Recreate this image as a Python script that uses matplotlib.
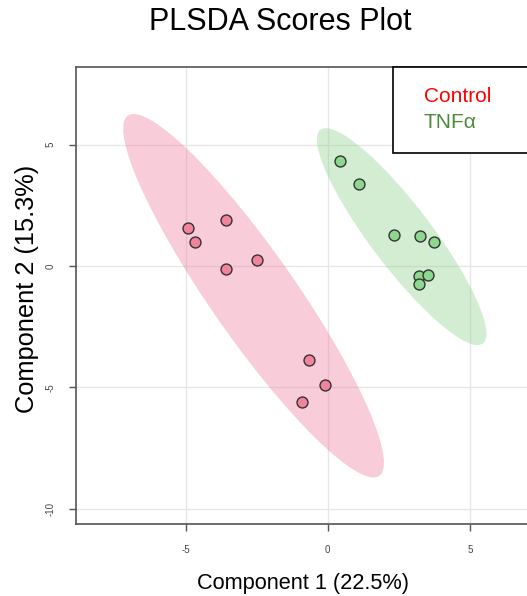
import numpy as np
import matplotlib
matplotlib.use("Agg")
import matplotlib.pyplot as plt
from matplotlib.patches import Ellipse, Rectangle

plt.rcParams["font.family"] = ["Liberation Sans", "DejaVu Sans"]

# scores
control_x = [-4.90, -4.68, -3.58, -3.58, -2.50, -0.65, -0.08, -0.91]
control_y = [1.55, 1.00, 1.91, -0.10, 0.23, -3.86, -4.91, -5.60]
tnf_x = [0.42, 1.11, 2.32, 3.23, 3.75, 3.22, 3.53, 3.20]
tnf_y = [4.32, 3.39, 1.29, 1.25, 0.98, -0.40, -0.38, -0.73]

groups = ["Control", "TNF\u03b1"]
point_colors = ["#F0849C", "#8ED88E"]
fill_colors = ["#F080A0", "#93D293"]
label_colors = ["#FF0000", "#4E8A3A"]

x_ticks = [-5, 0, 5]
y_ticks = [5, 0, -5, -10]


def conf_ellipse(x, y, color):
    # 95% confidence ellipse from the group covariance
    pts = np.vstack([x, y])
    mean = pts.mean(axis=1)
    cov = np.cov(pts)
    vals, vecs = np.linalg.eigh(cov)
    order = vals.argsort()[::-1]
    vals, vecs = vals[order], vecs[:, order]
    angle = np.degrees(np.arctan2(vecs[1, 0], vecs[0, 0]))
    k = np.sqrt(5.991)
    return Ellipse(mean, 2 * k * np.sqrt(vals[0]), 2 * k * np.sqrt(vals[1]),
                   angle=angle, facecolor=color, alpha=0.4, edgecolor="none", zorder=1)


fig = plt.figure(figsize=(5.27, 5.96), dpi=100)
ax = fig.add_axes([0.1448, 0.1208, 0.882, 0.767])

ax.add_patch(conf_ellipse(control_x, control_y, fill_colors[0]))
ax.add_patch(conf_ellipse(tnf_x, tnf_y, fill_colors[1]))

ax.scatter(control_x, control_y, s=62, c=point_colors[0], edgecolors="#333333", linewidths=1, zorder=3)
ax.scatter(tnf_x, tnf_y, s=62, c=point_colors[1], edgecolors="#333333", linewidths=1, zorder=3)

ax.set_xlim(-8.84, 7.5)
ax.set_ylim(-10.63, 8.21)
ax.set_xticks(x_ticks)
ax.set_yticks(y_ticks)
ax.set_xticklabels([str(t) for t in x_ticks], fontsize=7, color="#444444")
ax.set_yticklabels([str(t) for t in y_ticks], fontsize=7, color="#444444", rotation=90, va="center")
ax.tick_params(direction="out", length=5, width=1, color="#555555", pad=10)
ax.grid(True, color="#E6E6E6", linewidth=1)
ax.set_axisbelow(True)
for side in ["left", "bottom", "top"]:
    ax.spines[side].set_color("#555555")
    ax.spines[side].set_linewidth(1.2)
ax.spines["right"].set_visible(False)

fig.text(303 / 527, 1 - 583 / 596, "Component 1 (22.5%)", fontsize=15.7, ha="center", va="center")
fig.text(27 / 527, 1 - 289 / 596, "Component 2 (15.3%)", fontsize=18.3, ha="center", va="center",
         rotation=90)
fig.text(0.531, 0.963, "PLSDA Scores Plot", fontsize=22, ha="center", va="center")

# legend box, runs off the right edge like the original
box = Rectangle((392.7 / 527, 1 - 152.7 / 596), 0.4, (152.7 - 66.7) / 596,
                transform=fig.transFigure, facecolor="white", edgecolor="black",
                linewidth=1.2, clip_on=False, zorder=5)
fig.patches.append(box)
fig.text(424 / 527, 1 - 96 / 596, groups[0], color=label_colors[0], fontsize=15, va="center", zorder=6)
fig.text(424 / 527, 1 - 123 / 596, groups[1], color=label_colors[1], fontsize=15, va="center", zorder=6)

fig.savefig("out.png", dpi=100)
